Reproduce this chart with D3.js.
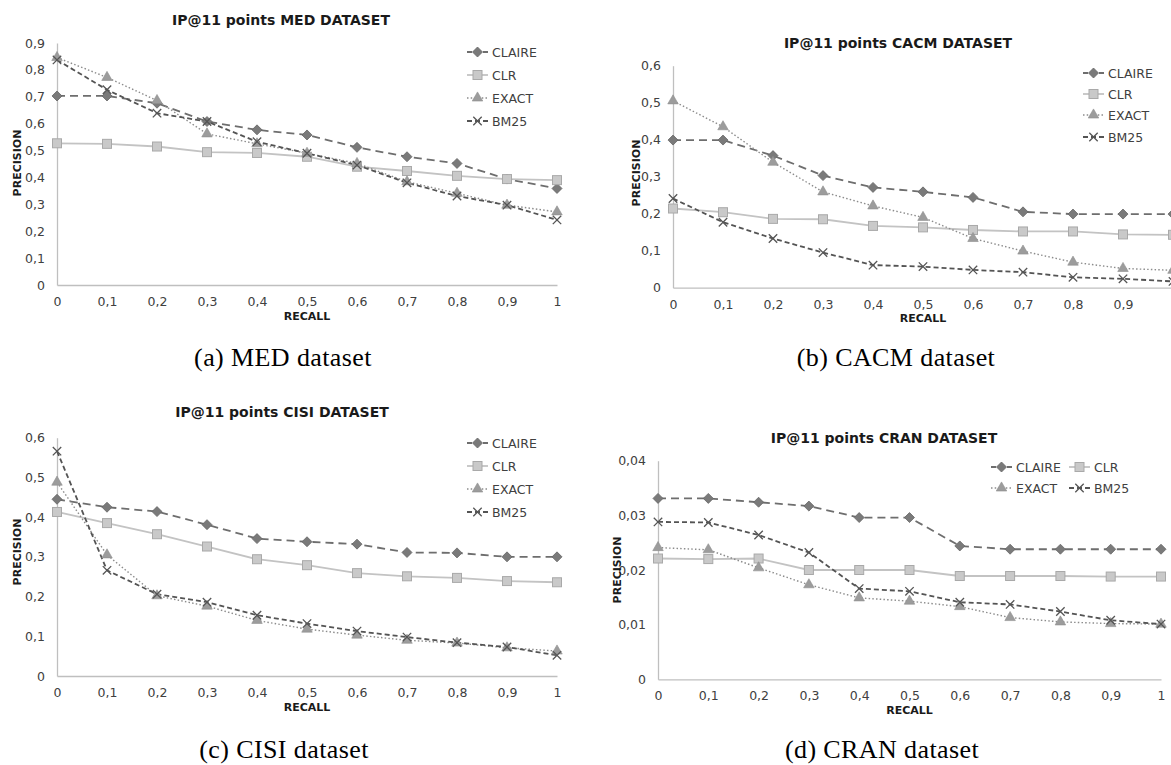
<!DOCTYPE html>
<html>
<head>
<meta charset="utf-8">
<script src="https://cdn.jsdelivr.net/npm/d3@7"></script>
<style>
  html, body { margin: 0; padding: 0; background: #ffffff; }
  svg { display: block; }
</style>
</head>
<body>
<svg id="chart" width="1171" height="765"></svg>
<script>
// ---------------- DATA ----------------
const recall = [0, 0.1, 0.2, 0.3, 0.4, 0.5, 0.6, 0.7, 0.8, 0.9, 1];
const seriesNames = ["CLAIRE", "CLR", "EXACT", "BM25"];

// MED
const medClaire = [0.703, 0.703, 0.676, 0.608, 0.577, 0.558, 0.512, 0.477, 0.452, 0.394, 0.359];
const medClr    = [0.527, 0.525, 0.515, 0.494, 0.491, 0.477, 0.440, 0.424, 0.406, 0.394, 0.390];
const medExact  = [0.846, 0.772, 0.686, 0.562, 0.525, 0.490, 0.452, 0.384, 0.341, 0.297, 0.272];
const medBm25   = [0.837, 0.726, 0.639, 0.608, 0.533, 0.490, 0.446, 0.380, 0.331, 0.297, 0.242];
const medTicks  = [0, 0.1, 0.2, 0.3, 0.4, 0.5, 0.6, 0.7, 0.8, 0.9];

// CACM
const cacmClaire = [0.399, 0.399, 0.357, 0.303, 0.271, 0.259, 0.244, 0.205, 0.199, 0.199, 0.199];
const cacmClr    = [0.214, 0.204, 0.186, 0.185, 0.167, 0.163, 0.156, 0.152, 0.152, 0.144, 0.143];
const cacmExact  = [0.505, 0.435, 0.339, 0.259, 0.221, 0.190, 0.133, 0.099, 0.069, 0.052, 0.047];
const cacmBm25   = [0.241, 0.177, 0.133, 0.095, 0.061, 0.057, 0.048, 0.042, 0.028, 0.024, 0.017];
const cacmTicks  = [0, 0.1, 0.2, 0.3, 0.4, 0.5, 0.6];

// CISI
const cisiClaire = [0.445, 0.425, 0.414, 0.381, 0.346, 0.338, 0.332, 0.311, 0.310, 0.300, 0.300];
const cisiClr    = [0.413, 0.385, 0.357, 0.326, 0.294, 0.279, 0.259, 0.251, 0.247, 0.239, 0.236];
const cisiExact  = [0.488, 0.305, 0.202, 0.176, 0.140, 0.118, 0.103, 0.090, 0.083, 0.071, 0.063];
const cisiBm25   = [0.566, 0.266, 0.206, 0.186, 0.153, 0.132, 0.113, 0.098, 0.084, 0.073, 0.052];
const cisiTicks  = [0, 0.1, 0.2, 0.3, 0.4, 0.5, 0.6];

// CRAN
const cranClaire = [0.0331, 0.0331, 0.0324, 0.0317, 0.0296, 0.0296, 0.0244, 0.0238, 0.0238, 0.0238, 0.0238];
const cranClr    = [0.0221, 0.0220, 0.0221, 0.0200, 0.0200, 0.0200, 0.0189, 0.0189, 0.0189, 0.0188, 0.0188];
const cranExact  = [0.0241, 0.0237, 0.0204, 0.0173, 0.0149, 0.0143, 0.0133, 0.0113, 0.0105, 0.0102, 0.0101];
const cranBm25   = [0.0288, 0.0287, 0.0264, 0.0232, 0.0166, 0.0161, 0.0141, 0.0137, 0.0124, 0.0108, 0.0101];
const cranTicks  = [0, 0.01, 0.02, 0.03, 0.04];

const xTicks = [0, 0.1, 0.2, 0.3, 0.4, 0.5, 0.6, 0.7, 0.8, 0.9, 1];
// panel (b) is cropped at the right edge in the source figure: its "1" label is not visible
const xTicksCropped = [0, 0.1, 0.2, 0.3, 0.4, 0.5, 0.6, 0.7, 0.8, 0.9];

// ---------------- STYLE ----------------
const styles = {
  CLAIRE: { color: "#6e6e6e", dash: "8,5", width: 1.8, marker: "diamond", fill: "#7a7a7a", stroke: "#666" },
  CLR:    { color: "#c3c3c3", dash: null,  width: 1.8, marker: "square",  fill: "#c9c9c9", stroke: "#a9a9a9" },
  EXACT:  { color: "#8c8c8c", dash: "1.5,2.2", width: 1.4, marker: "triangle", fill: "#9c9c9c", stroke: "#8e8e8e" },
  BM25:   { color: "#545454", dash: "5,3", width: 1.8, marker: "cross", fill: "none", stroke: "#555" }
};

const fmt = v => v === 0 ? "0" : String(+v.toFixed(2)).replace(".", ",");
const tickFont = "DejaVu Sans";

const svg = d3.select("#chart");

function drawMarker(g, type, x, y, st) {
  if (type === "diamond") {
    const r = 5;
    g.append("path").attr("d", `M0,${-r}L${r},0L0,${r}L${-r},0Z`)
      .attr("transform", `translate(${x},${y})`)
      .attr("fill", st.fill).attr("stroke", st.stroke).attr("stroke-width", 0.8);
  } else if (type === "square") {
    g.append("rect").attr("x", x - 4.5).attr("y", y - 4.5).attr("width", 9).attr("height", 9)
      .attr("fill", st.fill).attr("stroke", st.stroke).attr("stroke-width", 1);
  } else if (type === "triangle") {
    g.append("path").attr("d", d3.symbol(d3.symbolTriangle, 48)())
      .attr("transform", `translate(${x},${y})`)
      .attr("fill", st.fill).attr("stroke", st.stroke).attr("stroke-width", 0.6);
  } else if (type === "cross") {
    g.append("path").attr("d", d3.symbol(d3.symbolX, 48)())
      .attr("transform", `translate(${x},${y})`)
      .attr("fill", "none").attr("stroke", st.stroke).attr("stroke-width", 1.3);
  }
}

function drawPanel(cfg) {
  const g = svg.append("g");
  const x = d3.scaleLinear().domain([0, 1]).range([cfg.left, cfg.right]);
  const y = d3.scaleLinear().domain([0, cfg.yMax]).range([cfg.bottom, cfg.top]);

  const yAxis = d3.axisLeft(y).tickValues(cfg.yTicks).tickFormat(fmt).tickSize(0).tickPadding(12);
  const ya = g.append("g").attr("transform", `translate(${cfg.left},0)`).call(yAxis);
  ya.select(".domain").attr("stroke", "#bfbfbf").attr("stroke-width", 1.3);
  ya.selectAll("text").attr("font-family", tickFont).attr("font-size", 12.5).attr("fill", "#404040");

  const xAxis = d3.axisBottom(x).tickValues(cfg.xTicks).tickFormat(fmt).tickSize(0).tickPadding(12);
  const xa = g.append("g").attr("transform", `translate(0,${cfg.bottom})`).call(xAxis);
  xa.select(".domain").attr("stroke", "#bfbfbf").attr("stroke-width", 1.3);
  xa.selectAll("text").attr("font-family", tickFont).attr("font-size", 12.5).attr("fill", "#404040");

  const line = d3.line().x((d, i) => x(recall[i])).y(d => y(d));
  cfg.series.forEach((vals, si) => {
    const st = styles[seriesNames[si]];
    g.append("path").datum(vals).attr("d", line)
      .attr("fill", "none").attr("stroke", st.color).attr("stroke-width", st.width)
      .attr("stroke-dasharray", st.dash);
  });
  cfg.series.forEach((vals, si) => {
    const st = styles[seriesNames[si]];
    vals.forEach((v, i) => drawMarker(g, st.marker, x(recall[i]), y(v), st));
  });

  g.append("text").attr("x", cfg.titleX).attr("y", cfg.titleY).attr("text-anchor", "middle")
    .attr("dominant-baseline", "central")
    .attr("font-family", "DejaVu Sans").attr("font-weight", "bold").attr("font-size", 14).attr("fill", "#1a1a1a")
    .text(cfg.title);

  g.append("text").attr("x", x(0.5)).attr("y", cfg.bottom + 31).attr("text-anchor", "middle")
    .attr("dominant-baseline", "central")
    .attr("font-family", "DejaVu Sans").attr("font-weight", "bold").attr("font-size", 11).attr("fill", "#1a1a1a")
    .text("RECALL");
  g.append("text").attr("transform", `translate(${cfg.yLabelX},${cfg.yLabelY}) rotate(-90)`)
    .attr("text-anchor", "middle").attr("dominant-baseline", "central")
    .attr("font-family", "DejaVu Sans").attr("font-weight", "bold").attr("font-size", 11).attr("fill", "#1a1a1a")
    .text("PRECISION");

  cfg.legend.forEach((pos, si) => {
    const st = styles[seriesNames[si]];
    const lg = g.append("g");
    lg.append("line").attr("x1", pos[0]).attr("x2", pos[0] + 21).attr("y1", pos[1]).attr("y2", pos[1])
      .attr("stroke", st.color).attr("stroke-width", st.width).attr("stroke-dasharray", st.dash === "8,5" ? "5,3" : st.dash);
    drawMarker(lg, st.marker, pos[0] + 10.5, pos[1], st);
    lg.append("text").attr("x", pos[0] + 25).attr("y", pos[1]).attr("dominant-baseline", "central")
      .attr("font-family", tickFont).attr("font-size", 12.5).attr("fill", "#404040")
      .text(seriesNames[si]);
  });

  svg.append("text").attr("x", cfg.capX).attr("y", cfg.capY).attr("text-anchor", "middle")
    .attr("font-family", "Liberation Serif").attr("font-size", 26).attr("fill", "#000")
    .attr("letter-spacing", 0.4)
    .text(cfg.caption);
}

drawPanel({
  title: "IP@11 points MED DATASET", titleX: 281, titleY: 20,
  left: 57, right: 557, bottom: 285, top: 43, yMax: 0.9, yTicks: medTicks, xTicks: xTicks,
  series: [medClaire, medClr, medExact, medBm25],
  yLabelX: 17, yLabelY: 163,
  legend: [[467, 52], [467, 75], [467, 98], [467, 121]],
  caption: "(a) MED dataset", capX: 283, capY: 366
});
drawPanel({
  title: "IP@11 points CACM DATASET", titleX: 898, titleY: 43,
  left: 673, right: 1173, bottom: 287.7, top: 65.7, yMax: 0.6, yTicks: cacmTicks, xTicks: xTicksCropped,
  series: [cacmClaire, cacmClr, cacmExact, cacmBm25],
  yLabelX: 636, yLabelY: 173,
  legend: [[1083, 73], [1083, 94], [1083, 115], [1083, 137]],
  caption: "(b) CACM dataset", capX: 896, capY: 366
});
drawPanel({
  title: "IP@11 points CISI DATASET", titleX: 282, titleY: 412,
  left: 57, right: 557, bottom: 676, top: 437.7, yMax: 0.6, yTicks: cisiTicks, xTicks: xTicks,
  series: [cisiClaire, cisiClr, cisiExact, cisiBm25],
  yLabelX: 17, yLabelY: 552,
  legend: [[467, 443], [467, 466], [467, 489], [467, 512]],
  caption: "(c) CISI dataset", capX: 284, capY: 758
});
drawPanel({
  title: "IP@11 points CRAN DATASET", titleX: 884, titleY: 438,
  left: 658, right: 1161, bottom: 679.3, top: 460.7, yMax: 0.04, yTicks: cranTicks, xTicks: xTicks,
  series: [cranClaire, cranClr, cranExact, cranBm25],
  yLabelX: 617, yLabelY: 570,
  legend: [[991, 467], [1069, 467], [991, 488], [1069, 488]],
  caption: "(d) CRAN dataset", capX: 882, capY: 758
});
</script>
</body>
</html>
